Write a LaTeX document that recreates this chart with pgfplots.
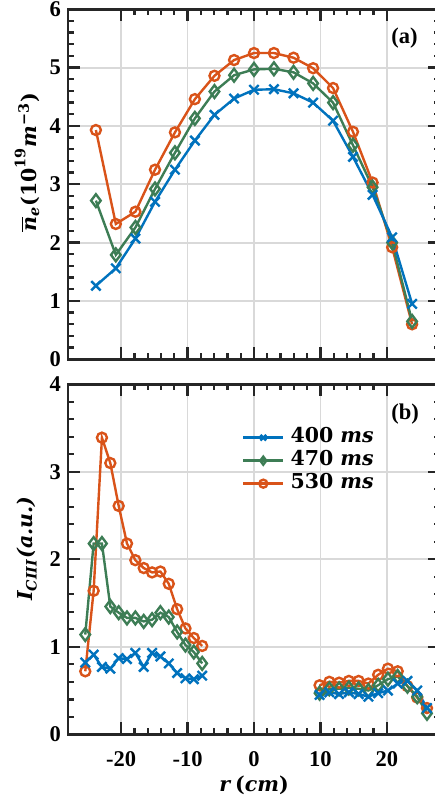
\documentclass[border=0pt]{standalone}
\usepackage{amsmath}
\usepackage{fontspec}
\setmainfont{Liberation Serif}
\newfontfamily\cam{DejaVu Serif}
\usepackage{pgfplots}
\pgfplotsset{compat=1.18}

\definecolor{c400}{RGB}{0,114,189}
\definecolor{c470}{RGB}{61,125,85}
\definecolor{c530}{RGB}{217,83,25}

\newcommand{\bi}[1]{{\cam\bfseries\itshape #1}}
\newcommand{\bu}[1]{{\cam\bfseries #1}}
\newcommand{\tickfont}{\fontsize{11.25}{13}\selectfont\bfseries}
\newcommand{\labfont}{\fontsize{10.25}{12}\selectfont}

\pgfplotsset{
  panel/.style={
    scale only axis, width=186pt, height=175pt,
    xmin=-28, xmax=28,
    xtick={-20,-10,0,10,20},
    minor x tick num=4, minor y tick num=4,
    tick align=inside,
    major tick length=6pt, minor tick length=3pt,
    tick style={black!85, line width=1.2pt},
    axis line style={black!85, line width=1.4pt},
    grid=major, major grid style={black!15, line width=0.9pt},
    tick label style={font=\tickfont},
    /pgf/number format/assume math mode=true,
    label style={font=\labfont},
    unbounded coords=jump,
    ylabel style={anchor=center},
  },
  s400/.style={c400, line width=1.2pt, mark=x, mark size=3.3pt, mark options={solid}},
  s470/.style={c470, line width=1.2pt, mark=diamond, mark size=3.2pt, mark options={solid}},
  s530/.style={c530, line width=1.2pt, mark=o, mark size=2.5pt, mark options={solid}},
}

\begin{document}
\begin{tikzpicture}

% (a) line-averaged density
\begin{axis}[panel,
  at={(0,187.5pt)}, anchor=south west,
  ymin=0, ymax=6, ytick={0,1,...,6},
  xticklabels={},
  ylabel={$\overline{\text{\bi{n}}}_{\text{\bi{e}}}\text{\bu{(10}}^{\text{\bu{19}}}\text{\bi{m}}^{\text{\bu{−3}}}\text{\bu{)}}$},
  ylabel style={at={([xshift=-20.5pt]rel axis cs:0,0.563)}},
]
\addplot[s530] coordinates {
  (-23.8,3.93) (-20.8,2.32) (-17.85,2.53) (-14.9,3.25) (-11.9,3.89) (-8.9,4.46)
  (-5.95,4.86) (-3.0,5.13) (0,5.25) (3.0,5.25) (5.95,5.17) (8.9,4.99)
  (11.9,4.65) (14.9,3.90) (17.85,3.03) (20.8,1.92) (23.8,0.60)};
\addplot[s470] coordinates {
  (-23.8,2.72) (-20.8,1.79) (-17.85,2.26) (-14.9,2.92) (-11.9,3.54) (-8.9,4.13)
  (-5.95,4.59) (-3.0,4.87) (0,4.97) (3.0,4.98) (5.95,4.92) (8.9,4.73)
  (11.9,4.40) (14.9,3.67) (17.85,2.95) (20.8,2.00) (23.8,0.65)};
\addplot[s400] coordinates {
  (-23.8,1.26) (-20.8,1.56) (-17.85,2.07) (-14.9,2.70) (-11.9,3.25) (-8.9,3.75)
  (-5.95,4.19) (-3.0,4.47) (0,4.62) (3.0,4.63) (5.95,4.56) (8.9,4.40)
  (11.9,4.09) (14.9,3.47) (17.85,2.82) (20.8,2.09) (23.8,0.95)};
\node[anchor=east, font=\tickfont] at (axis cs:25.7,5.51) {(a)};
\end{axis}

% (b) C III emission
\begin{axis}[panel,
  at={(0,0)}, anchor=south west,
  ymin=0, ymax=4, ytick={0,1,...,4},
  xticklabels={-20,-10,0,10,20},
  xticklabel style={anchor=center, yshift=-12.5pt},
  xlabel={\bi{r} \bu{(}\bi{cm}\bu{)}},
  xlabel style={at={([yshift=-25.5pt]rel axis cs:0.5,0)}, anchor=center},
  ylabel={\bi{I}$_{\text{\bi{CIII}}}$\bi{(a.u.)}},
  ylabel style={at={([xshift=-20.5pt]rel axis cs:0,0.53)}},
  reverse legend,
  legend cell align=left,
  legend style={at={(axis cs:-1.85,3.526)}, anchor=north west,
    draw=none, fill=none, font=\labfont, inner sep=0pt,
    row sep=0pt, column sep=3pt,
    nodes={inner sep=0pt, text height=8pt, text depth=3.5pt}},
  legend image code/.code={
    \draw[mark repeat=2, mark phase=2, #1, mark size=2pt]
      plot coordinates {(0pt,0pt) (10pt,0pt) (20pt,0pt)};},
]
\addplot[s530] coordinates {
  (-25.4,0.72) (-24.14,1.64) (-22.89,3.39) (-21.63,3.10) (-20.37,2.61)
  (-19.12,2.18) (-17.86,1.99) (-16.60,1.90) (-15.34,1.85) (-14.09,1.86)
  (-12.83,1.72) (-11.57,1.43) (-10.32,1.21) (-9.06,1.10) (-7.80,1.01)
  (0,nan)
  (9.87,0.56) (11.34,0.60) (12.81,0.59) (14.28,0.61) (15.75,0.61) (17.22,0.58)
  (18.69,0.68) (20.16,0.75) (21.63,0.72) (23.10,0.55) (24.57,0.42) (26.04,0.30)};
\addlegendentry{\bu{530 }\bi{ms}}
\addplot[s470] coordinates {
  (-25.4,1.14) (-24.14,2.18) (-22.89,2.18) (-21.63,1.46) (-20.37,1.39)
  (-19.12,1.33) (-17.86,1.33) (-16.60,1.29) (-15.34,1.31) (-14.09,1.39)
  (-12.83,1.34) (-11.57,1.17) (-10.32,1.02) (-9.06,0.94) (-7.80,0.81)
  (0,nan)
  (9.87,0.47) (11.34,0.52) (12.81,0.52) (14.28,0.53) (15.75,0.52) (17.22,0.50)
  (18.69,0.56) (20.16,0.63) (21.63,0.66) (23.10,0.55) (24.57,0.43) (26.04,0.24)};
\addlegendentry{\bu{470 }\bi{ms}}
\addplot[s400] coordinates {
  (-25.4,0.82) (-24.14,0.91) (-22.89,0.77) (-21.63,0.75) (-20.37,0.87)
  (-19.12,0.86) (-17.86,0.93) (-16.60,0.77) (-15.34,0.93) (-14.09,0.89)
  (-12.83,0.81) (-11.57,0.70) (-10.32,0.64) (-9.06,0.63) (-7.80,0.67)
  (0,nan)
  (9.87,0.45) (11.34,0.48) (12.81,0.46) (14.28,0.48) (15.75,0.46) (17.22,0.43)
  (18.69,0.47) (20.16,0.50) (21.63,0.58) (23.10,0.61) (24.57,0.50) (26.04,0.30)};
\addlegendentry{\bu{400 }\bi{ms}}
\node[anchor=east, font=\tickfont] at (axis cs:25.9,3.66) {(b)};
\end{axis}

\pgfresetboundingbox
\useasboundingbox (-34pt,-33.85pt) rectangle (183pt,367.15pt);
\end{tikzpicture}
\end{document}
